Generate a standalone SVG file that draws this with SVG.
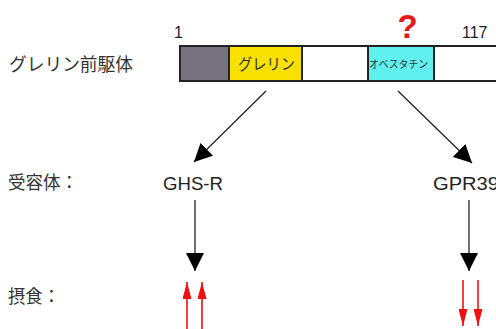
<svg xmlns="http://www.w3.org/2000/svg" width="496" height="329" viewBox="0 0 496 329">
<defs>
<style>
.jp{font-family:"Liberation Sans","Noto Sans CJK JP",sans-serif;fill:#333}
.lat{font-family:"Liberation Sans",Arial,sans-serif;fill:#222}
.seg{stroke:#222;stroke-width:2}
.conn{stroke:#222;stroke-width:1.3;fill:none}
.red{stroke:#f01010;stroke-width:1.6;fill:none}
</style>
<marker id="ah" viewBox="0 0 10 10" refX="10" refY="5" markerWidth="18" markerHeight="18" markerUnits="userSpaceOnUse" orient="auto"><path d="M0,0 L10,5 L0,10 Z" fill="#000"/></marker>
<marker id="rh" viewBox="0 0 10 10" refX="10" refY="5" markerWidth="17" markerHeight="9" markerUnits="userSpaceOnUse" orient="auto" preserveAspectRatio="none"><path d="M0,0 L10,5 L0,10 Z" fill="#f01010"/></marker>
</defs>
<rect width="496" height="329" fill="#fff"/>
<g id="labels">
<text class="jp" x="9" y="71" font-size="18" textLength="124" lengthAdjust="spacingAndGlyphs">グレリン前駆体</text>
<text class="jp" x="8" y="189" font-size="18" textLength="70" lengthAdjust="spacingAndGlyphs">受容体：</text>
<text class="jp" x="8" y="303" font-size="18" textLength="52" lengthAdjust="spacingAndGlyphs">摂食：</text>
</g>
<g id="precursor">
<rect class="seg" x="180" y="46" width="49" height="35" fill="#77707e"/>
<rect class="seg" x="229" y="46" width="73" height="35" fill="#f8e000"/>
<rect class="seg" x="302" y="46" width="66" height="35" fill="#fff"/>
<rect class="seg" x="368" y="46" width="66" height="35" fill="#60f0f0"/>
<rect class="seg" x="434" y="46" width="64" height="35" fill="#fff"/>
<text class="jp" x="238" y="70" font-size="15.5" textLength="57" lengthAdjust="spacingAndGlyphs">グレリン</text>
<text class="jp" x="369" y="68" font-size="10.5" textLength="59" lengthAdjust="spacingAndGlyphs">オベスタチン</text>
<text class="lat" x="174" y="38" font-size="16">1</text>
<text class="lat" x="462" y="38" font-size="16">117</text>
<text x="407.5" y="38" font-size="33" font-weight="bold" text-anchor="middle" fill="#e81818" font-family="Liberation Sans,Arial,sans-serif">?</text>
</g>
<g id="ghsr"><text class="lat" x="163" y="190" font-size="18" textLength="60" lengthAdjust="spacingAndGlyphs">GHS-R</text></g>
<g id="gpr39"><text class="lat" x="433" y="190" font-size="18" textLength="66" lengthAdjust="spacingAndGlyphs">GPR39</text></g>
<g id="connectors">
<line class="conn" x1="266" y1="91" x2="194" y2="162" marker-end="url(#ah)"/>
<line class="conn" x1="398" y1="91" x2="472" y2="163" marker-end="url(#ah)"/>
<line class="conn" x1="195" y1="200" x2="195" y2="271" marker-end="url(#ah)"/>
<line class="conn" x1="469" y1="200" x2="469" y2="271" marker-end="url(#ah)"/>
<line class="red" x1="187" y1="329" x2="187" y2="282" marker-end="url(#rh)"/>
<line class="red" x1="202" y1="329" x2="202" y2="282" marker-end="url(#rh)"/>
<line class="red" x1="463" y1="280" x2="463" y2="326" marker-end="url(#rh)"/>
<line class="red" x1="478" y1="280" x2="478" y2="326" marker-end="url(#rh)"/>
</g>
</svg>
